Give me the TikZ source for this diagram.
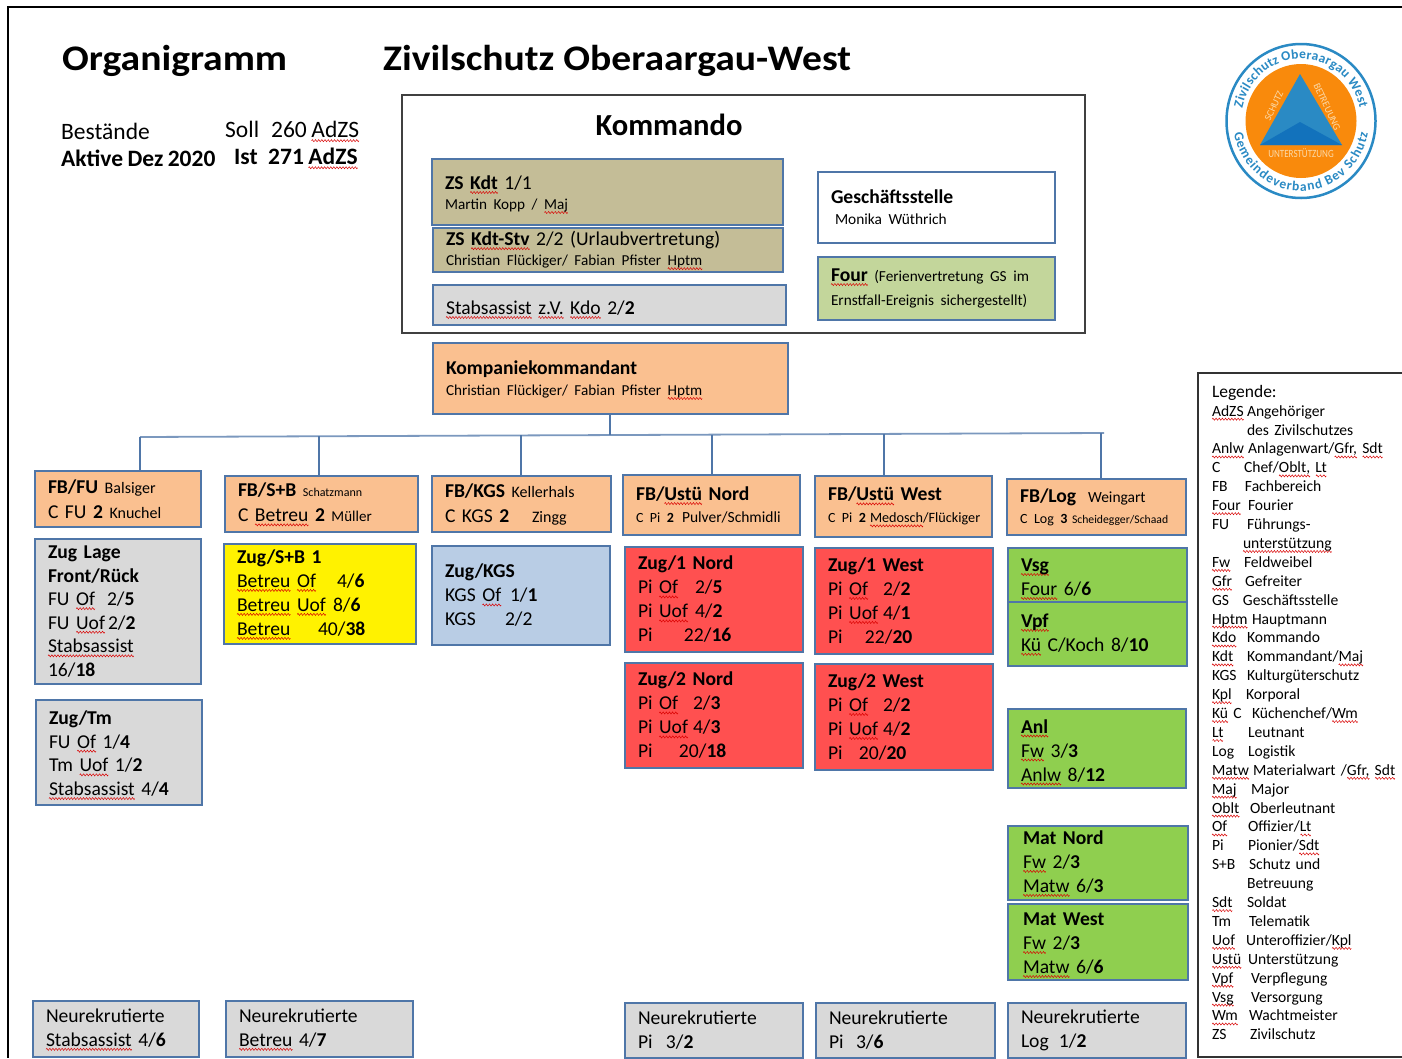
\documentclass[tikz,border=0pt]{standalone}
\usepackage{fontspec}
\setmainfont[WordSpace=0.85]{Carlito}
\newfontfamily\titlefont[FakeStretch=1.1]{Carlito}
\usetikzlibrary{decorations.text}
\definecolor{unitBlue}{HTML}{4F76A8}
\definecolor{tanFill}{HTML}{C4BD97}
\definecolor{greyFill}{HTML}{D9D9D9}
\definecolor{olivFill}{HTML}{C3D69B}
\definecolor{peachFill}{HTML}{FAC090}
\definecolor{iceFill}{HTML}{B9CDE5}
\definecolor{redFill}{HTML}{FF5050}
\definecolor{greenFill}{HTML}{8FCF4F}
\definecolor{logoBlue}{HTML}{2A8AC4}
\definecolor{logoDeep}{HTML}{1272BC}
\definecolor{logoOrange}{HTML}{F98A0C}
\definecolor{logoPale}{HTML}{FBD9A8}
\newsavebox{\wavebox}
\newsavebox{\sqtext}
\sbox{\wavebox}{\begin{tikzpicture}
\draw[red!85!black, line width=.5pt] (0pt,0pt) .. controls (.75pt,1.4pt) and (.75pt,1.4pt) .. (1.5pt,0pt) .. controls (2.25pt,-1.4pt) and (2.25pt,-1.4pt) .. (3pt,0pt);
\pgfresetboundingbox
\useasboundingbox (0pt,0pt) rectangle (3pt,0pt);
\end{tikzpicture}}
\newcommand{\sq}[1]{\leavevmode\sbox{\sqtext}{#1}\rlap{\raisebox{-3pt}{\hbox to\wd\sqtext{\xleaders\copy\wavebox\hfil}}}\usebox{\sqtext}}
\newcommand{\fs}[1]{\fontsize{#1}{\lh}\selectfont}
\newcommand{\nf}{\fs{19.6}}
\newcommand{\col}[2]{\makebox[#1pt][l]{#2}}
\newcommand{\lgd}[3]{\col{#1}{#2}#3\\}
\tikzset{area/.style n args={2}{minimum width=#1pt, minimum height=#2pt, text width=#1pt-26pt},
  lines/.style={font=\def\lh{#1}\fontsize{19.6}{#1}\selectfont}}
\begin{document}
\begin{tikzpicture}[x=1pt,y=-1pt]
\tikzstyle{unitStyle}=[draw=unitBlue, line width=1.2pt, anchor=north west, inner xsep=13pt, inner ysep=0pt, outer sep=0pt, align=left, lines=24]
\tikzstyle{textStyle}=[anchor=west, inner sep=0pt, font=\fontsize{23.5}{26}\selectfont]
\tikzstyle{titleStyle}=[anchor=west, inner sep=0pt, font=\fontsize{36}{40}\selectfont\titlefont\bfseries]
\tikzstyle{lineStyle}=[draw=unitBlue, line width=1.2pt]
\tikzstyle{logoStyle}=[inner sep=0pt, text=logoPale, font=\fontsize{10}{10}\selectfont]
\useasboundingbox (0,0) rectangle (1402,1058);
\draw[line width=2pt] (1402,7) -| (8,1058);
\node[titleStyle] (org) at (62,61) {Organigramm};
\node[titleStyle] (zso) at (383,61) {Zivilschutz Oberaargau-West};
\node[textStyle] (sta) at (61,131) {Bestände};
\node[textStyle] (sol) at (225,131) {\col{46}{Soll}260 \sq{AdZS}};
\node[textStyle, font=\fontsize{23.5}{26}\selectfont\bfseries] (akt) at (61,158) {Aktive Dez 2020};
\node[textStyle, font=\fontsize{23.5}{26}\selectfont\bfseries] (ist) at (234,158) {\col{34}{Ist}271 \sq{AdZS}};
\node[draw=black!75, line width=2pt, anchor=north west, minimum width=683pt, minimum height=238pt, outer sep=0pt] (kdo) at (402,95) {};
\node[textStyle, anchor=center, font=\fontsize{30.6}{34}\selectfont\bfseries] (kdoT) at (669,125) {Kommando};
\node[unitStyle, lines=20, area={351}{66}, fill=tanFill] (kdt) at (432,159) {\rule{0pt}{18pt}\textbf{ZS \sq{Kdt}} 1/1\\ \fs{15.2}Martin Kopp / \sq{Maj}};
\node[unitStyle, lines=20, area={350}{44}, fill=tanFill] (stv) at (433,228) {\textbf{ZS \sq{Kdt-Stv}} 2/2 (Urlaubvertretung)\\ \fs{15.2}Christian Flückiger/ Fabian Pfister \sq{Hptm}};
\node[unitStyle, area={353}{40}, fill=greyFill] (sas) at (433,285) {\rule{0pt}{22pt}\sq{Stabsassist} \sq{z.V.} \sq{Kdo} 2/\textbf{2}};
\node[unitStyle, lines=21, area={237}{71}, fill=white] (gst) at (818,172) {\textbf{Geschäftsstelle}\\ \fs{15.4}\hspace{4pt}Monika Wüthrich};
\node[unitStyle, lines=24, area={237}{63}, fill=olivFill] (fou) at (818,257) {\textbf{\sq{Four}} \fs{15.3}(Ferienvertretung GS im\\ \fs{15.3}Ernstfall-Ereignis sichergestellt)};
\node[unitStyle, lines=21, area={355}{71}, fill=peachFill] (kpk) at (433,343) {\rule{0pt}{16pt}\textbf{Kompaniekommandant}\\ \fs{15.2}Christian Flückiger/ Fabian Pfister \sq{Hptm}};
\coordinate (j0) at (140,437);
\coordinate (j1) at (319,436.3);
\coordinate (j2) at (521,435.4);
\coordinate (j3) at (610,435);
\coordinate (j4) at (712,434.6);
\coordinate (j5) at (884,433.9);
\coordinate (j6) at (1101,433);
\coordinate (j7) at (1104,433);
\node[unitStyle, lines=25, area={166}{56}, fill=peachFill] (fbFu) at (35,471) {\textbf{FB/FU} \fs{16}Balsiger\\ \nf C FU \textbf{2} \fs{16}Knuchel};
\node[unitStyle, lines=25, area={193}{56}, fill=peachFill] (fbSb) at (225,476) {\textbf{FB/S+B} \fs{12}Schatzmann\\ \nf C \sq{Betreu} \textbf{2} \fs{15}Müller};
\node[unitStyle, lines=25, area={179}{56}, fill=peachFill] (fbKg) at (432,476) {\textbf{FB/KGS} \fs{16}Kellerhals\\ \nf\col{87}{C KGS \textbf{2}}\fs{16}Zingg};
\node[unitStyle, lines=22, area={177}{60}, fill=peachFill] (fbNo) at (623,475) {\textbf{FB/\sq{Ustü} Nord}\\ \fs{14}\col{46}{C Pi \textbf{2}}\fs{15.5}Pulver/Schmidli};
\node[unitStyle, lines=22, area={177}{61}, fill=peachFill] (fbWe) at (815,476) {\textbf{FB/\sq{Ustü} West}\\ \fs{14}\col{42}{C Pi \textbf{2}}\fs{14.2}\sq{Medosch}/Flückiger};
\node[unitStyle, lines=21, area={179}{56}, fill=peachFill] (fbLo) at (1007,479) {\col{68}{\textbf{FB/Log}}\fs{15.5}Weingart\\ \fs{14}\col{52}{C Log \textbf{3}}\fs{11.7}Scheidegger/Schaad};
\draw[lineStyle, line width=1.8pt, unitBlue!75] (j0) -- (j7);
\draw[lineStyle] (kpk.south -| j3) -- (j3);
\draw[lineStyle] (j0) -- (j0 |- fbFu.north);
\draw[lineStyle] (j1) -- (j1 |- fbSb.north);
\draw[lineStyle] (j2) -- (j2 |- fbKg.north);
\draw[lineStyle] (j4) -- (j4 |- fbNo.north);
\draw[lineStyle] (j5) -- (j5 |- fbWe.north);
\draw[lineStyle] (j6) -- (j6 |- fbLo.north);
\node[unitStyle, lines=23.6, area={166}{145}, fill=greyFill] (zLa) at (35,539) {\textbf{Zug Lage}\\ \textbf{Front/Rück}\\ \col{59}{FU \sq{Of}}2/\textbf{5}\\ \col{60}{FU \sq{Uof}}2/\textbf{2}\\ \sq{Stabsassist}\\ 16/\textbf{18}};
\node[unitStyle, lines=23.7, area={166}{105}, fill=greyFill] (zTm) at (36,700) {\rule{0pt}{18pt}\textbf{Zug/Tm}\\ FU \sq{Of} 1/\textbf{4}\\ Tm \sq{Uof} 1/\textbf{2}\\ \sq{Stabsassist} 4/\textbf{4}};
\node[unitStyle, area={192}{100}, fill=yellow] (zSb) at (224,544) {\textbf{Zug/S+B 1}\\ \col{100}{\sq{Betreu} \sq{Of}}4/\textbf{6}\\ \col{96}{\sq{Betreu} \sq{Uof}}8/\textbf{6}\\ \col{81}{\sq{Betreu}}40/\textbf{38}};
\node[unitStyle, area={178}{99}, fill=iceFill] (zKg) at (432,546) {\textbf{Zug/KGS}\\ \col{65}{KGS \sq{Of}}1/\textbf{1}\\ \col{60}{KGS}2/2};
\node[unitStyle, area={178}{105}, fill=redFill] (zNo1) at (625,547) {\textbf{Zug/1 Nord}\\ \col{57}{Pi \sq{Of}}2/\textbf{5}\\ \col{57}{Pi \sq{Uof}}4/\textbf{2}\\ \col{46}{Pi}22/\textbf{16}};
\node[unitStyle, area={178}{105}, fill=redFill] (zNo2) at (625,663) {\textbf{Zug/2 Nord}\\ \col{55}{Pi \sq{Of}}2/\textbf{3}\\ \col{55}{Pi \sq{Uof}}4/\textbf{3}\\ \col{41}{Pi}20/\textbf{18}};
\node[unitStyle, area={178}{106}, fill=redFill] (zWe1) at (815,548) {\textbf{Zug/1 West}\\ \col{55}{Pi \sq{Of}}2/\textbf{2}\\ \col{55}{Pi \sq{Uof}}4/\textbf{1}\\ \col{37}{Pi}22/\textbf{20}};
\node[unitStyle, area={178}{106}, fill=redFill] (zWe2) at (815,664) {\textbf{Zug/2 West}\\ \col{55}{Pi \sq{Of}}2/\textbf{2}\\ \col{55}{Pi \sq{Uof}}4/\textbf{2}\\ \col{31}{Pi}20/\textbf{20}};
\node[unitStyle, area={179}{54}, fill=greenFill] (vsg) at (1008,548) {\rule{0pt}{20pt}\textbf{\sq{Vsg}}\\ \sq{Four} 6/\textbf{6}};
\node[unitStyle, area={179}{64}, fill=greenFill] (vpf) at (1008,602) {\textbf{\sq{Vpf}}\\ \sq{Kü} C/Koch 8/\textbf{10}};
\node[unitStyle, area={178}{79}, fill=greenFill] (anl) at (1008,709) {\rule{0pt}{20pt}\textbf{\sq{Anl}}\\ \sq{Fw} 3/\textbf{3}\\ \sq{Anlw} 8/\textbf{12}};
\node[unitStyle, area={180}{74}, inner xsep=15pt, text width=150pt, fill=greenFill] (mNo) at (1008,826) {\textbf{Mat Nord}\\ \sq{Fw} 2/\textbf{3}\\ \sq{Matw} 6/\textbf{3}};
\node[unitStyle, area={180}{76}, inner xsep=15pt, text width=150pt, fill=greenFill] (mWe) at (1008,904) {\rule{0pt}{18pt}\textbf{Mat West}\\ \sq{Fw} 2/\textbf{3}\\ \sq{Matw} 6/\textbf{6}};
\node[unitStyle, area={166}{56}, fill=greyFill] (nrA) at (33,1001) {Neurekrutierte\\ \sq{Stabsassist} 4/\textbf{6}};
\node[unitStyle, area={187}{56}, fill=greyFill] (nrB) at (226,1001) {Neurekrutierte\\ \sq{Betreu} 4/\textbf{7}};
\node[unitStyle, area={178}{55}, fill=greyFill] (nrC) at (625,1003) {Neurekrutierte\\ \col{28}{Pi}3/\textbf{2}};
\node[unitStyle, area={179}{55}, fill=greyFill] (nrD) at (816,1003) {Neurekrutierte\\ \col{27}{Pi}3/\textbf{6}};
\node[unitStyle, area={178}{55}, fill=greyFill] (nrE) at (1008,1003) {Neurekrutierte\\ \col{38}{Log}1/\textbf{2}};
\node[unitStyle, draw=black!80, fill=white, area={226}{684}, inner xsep=14pt, text width=198pt, font=\def\lh{18.9}\fontsize{15.6}{18.9}\selectfont] (leg) at (1198,373) {{\fs{17.5}Legende:}\\
\lgd{35}{\sq{AdZS}}{Angehöriger}
\lgd{35}{}{des Zivilschutzes}
\lgd{36}{\sq{Anlw}}{Anlagenwart/\sq{Gfr,} \sq{Sdt}}
\lgd{32}{C}{Chef/\sq{Oblt,} \sq{Lt}}
\lgd{33}{FB}{Fachbereich}
\lgd{36}{\sq{Four}}{Fourier}
\lgd{35}{FU}{Führungs-}
\lgd{31}{}{\sq{unterstützung}}
\lgd{32}{\sq{Fw}}{Feldweibel}
\lgd{33}{\sq{Gfr}}{Gefreiter}
\lgd{31}{GS}{Geschäftsstelle}
\lgd{40}{\sq{Hptm}}{Hauptmann}
\lgd{35}{\sq{Kdo}}{Kommando}
\lgd{35}{\sq{Kdt}}{Kommandant/\sq{Maj}}
\lgd{35}{KGS}{Kulturgüterschutz}
\lgd{34}{\sq{Kpl}}{Korporal}
\lgd{40}{\sq{Kü} C}{Küchenchef/\sq{Wm}}
\lgd{36}{\sq{Lt}}{Leutnant}
\lgd{36}{Log}{Logistik}
\lgd{41}{\sq{Matw}}{Materialwart /\sq{Gfr,} \sq{Sdt}}
\lgd{39}{\sq{Maj}}{Major}
\lgd{38}{\sq{Oblt}}{Oberleutnant}
\lgd{36}{\sq{Of}}{Offizier/\sq{Lt}}
\lgd{36}{Pi}{Pionier/\sq{Sdt}}
\lgd{37}{S+B}{Schutz und}
\lgd{35}{}{Betreuung}
\lgd{35}{\sq{Sdt}}{Soldat}
\lgd{37}{Tm}{Telematik}
\lgd{34}{\sq{Uof}}{Unteroffizier/\sq{Kpl}}
\lgd{36}{\sq{Ustü}}{Unterstützung}
\lgd{39}{\sq{Vpf}}{Verpflegung}
\lgd{39}{\sq{Vsg}}{Versorgung}
\lgd{37}{\sq{Wm}}{Wachtmeister}
\col{38}{ZS}Zivilschutz\rule[-5pt]{0pt}{1pt}};
\coordinate (lc) at (1301,121);
\draw[draw=logoBlue, line width=2.5pt, fill=white] (lc) ellipse [x radius=74.5pt, y radius=77pt];
\fill[logoOrange] (lc) ellipse [x radius=55.5pt, y radius=57pt];
\fill[logoBlue] (1300,74) -- (1260,145) -- (1342,145) -- cycle;
\fill[logoDeep] (1300,122) -- (1260,145) -- (1342,145) -- cycle;
\node[logoStyle, rotate=65] (scz) at (1274,106) {SCHUTZ};
\node[logoStyle, rotate=-65] (bet) at (1327,107) {BETREUUNG};
\node[logoStyle, font=\fontsize{11}{11}\selectfont, xscale=.82, transform shape] (unt) at (1301,153) {UNTERSTÜTZUNG};
\path[decorate, decoration={text along path, text align={fit to path}, text color=logoBlue, text={|\fontsize{13.5}{14}\selectfont\bfseries|Zivilschutz Oberaargau West}}] ([shift={(168:60pt and 62pt)}]lc) arc [start angle=168, end angle=12, x radius=60pt, y radius=62pt];
\path[decorate, decoration={text along path, text align={fit to path}, text color=logoBlue, text={|\fontsize{13.5}{14}\selectfont\bfseries|Gemeindeverband Bev Schutz}}] ([shift={(-170:68pt and 70pt)}]lc) arc [start angle=-170, end angle=-10, x radius=68pt, y radius=70pt];
\end{tikzpicture}
\end{document}
